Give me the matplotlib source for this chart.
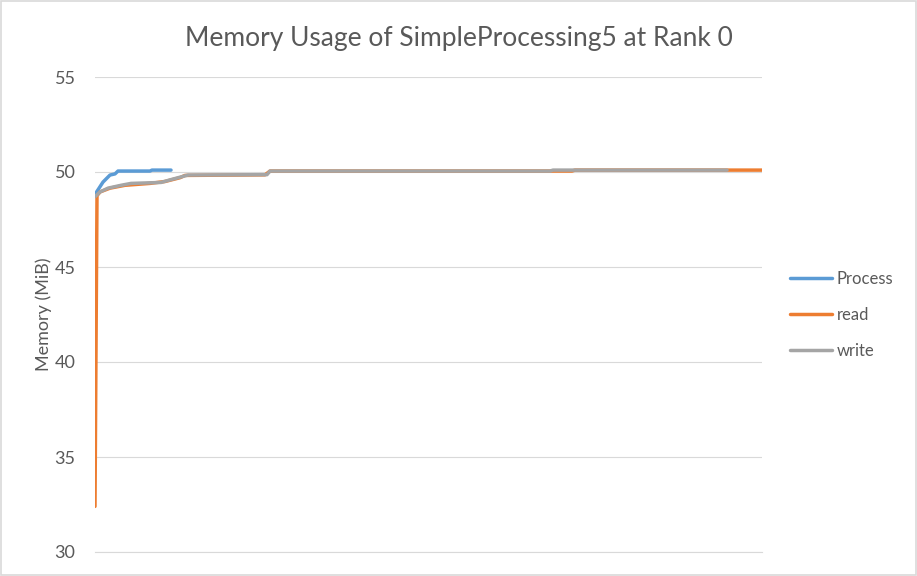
import matplotlib.pyplot as plt

plt.rcParams['font.family'] = ['Lato', 'DejaVu Sans']

# sample index / memory (MiB)
process_x = [1, 8, 15, 20, 23, 55, 57, 76]
process_y = [48.9, 49.47, 49.84, 49.9, 50.05, 50.05, 50.1, 50.1]

read_x = [0, 2, 5, 15, 30, 55, 70, 85, 90, 170, 175, 477, 480, 667]
read_y = [32.4, 48.75, 48.95, 49.15, 49.3, 49.4, 49.5, 49.7, 49.82, 49.85, 50.05, 50.05, 50.1, 50.1]

write_x = [0, 5, 13, 26, 36, 66, 76, 93, 172, 175, 455, 458, 632]
write_y = [48.7, 48.95, 49.15, 49.3, 49.4, 49.45, 49.6, 49.84, 49.86, 50.05, 50.05, 50.1, 50.1]

yticks = [30, 35, 40, 45, 50, 55]

text_col = '#595959'

fig = plt.figure(figsize=(9.17, 5.76), dpi=100)
ax = fig.add_axes([95 / 917, 24 / 576, 667 / 917, 475 / 576])

lw = 2.5
ax.plot(process_x, process_y, color='#5B9BD5', linewidth=lw, label='Process', solid_capstyle='round')
ax.plot(read_x, read_y, color='#ED7D31', linewidth=lw, label='read', solid_capstyle='round')
ax.plot(write_x, write_y, color='#A5A5A5', linewidth=lw, label='write', solid_capstyle='round')

ax.set_xlim(0, 667)
ax.set_ylim(30, 55)
ax.set_yticks(yticks)
ax.set_xticks([])
ax.grid(axis='y', color='#D9D9D9', linewidth=0.8)
ax.set_axisbelow(True)
for s in ['top', 'right', 'left']:
    ax.spines[s].set_visible(False)
ax.spines['bottom'].set_color('#D9D9D9')
ax.spines['bottom'].set_linewidth(0.8)
ax.tick_params(axis='y', length=0, labelsize=13, labelcolor=text_col, pad=14)
ax.set_ylabel('Memory (MiB)', fontsize=13, color=text_col, labelpad=2)

fig.suptitle('Memory Usage of SimpleProcessing5 at Rank 0', fontsize=19, color=text_col, y=0.955)

fig.legend(loc='center left', bbox_to_anchor=(790 / 917, 1 - 315 / 576), frameon=False,
           borderpad=0, borderaxespad=0,
           fontsize=12, labelcolor=text_col, handlelength=2.5, handletextpad=0.3, labelspacing=1.2)

# light chart border
fig.patches.append(plt.Rectangle((0.001, 0.001), 0.998, 0.998, transform=fig.transFigure,
                                 fill=False, edgecolor='#D9D9D9', linewidth=1.2))

fig.savefig('out.png', dpi=100)
